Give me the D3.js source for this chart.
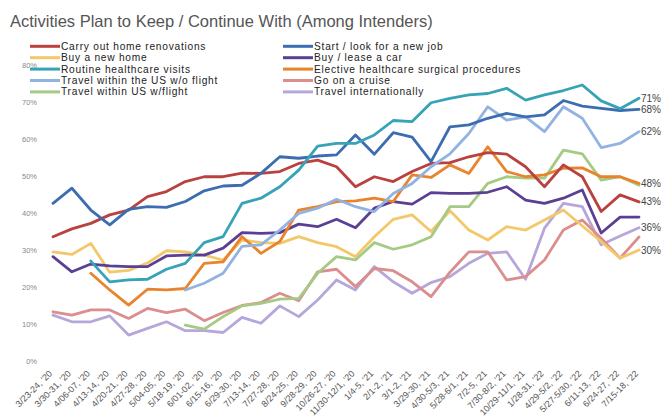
<!DOCTYPE html>
<html>
<head>
<meta charset="utf-8">
<script src="https://cdn.jsdelivr.net/npm/d3@7"></script>
<style>
  body { margin: 0; background: #fff; }
  svg { display: block; font-family: "Liberation Sans", Arial, sans-serif; }
</style>
</head>
<body>
<svg id="chart" width="665" height="419"></svg>
<script>
// Survey waves (x categories)
const waves = [
  "3/23-24, '20", "3/30-31, '20", "4/06-07, '20", "4/13-14, '20", "4/20-21, '20",
  "4/27-28, '20", "5/04-05, '20", "5/18-19, '20", "6/01-02, '20", "6/15-16, '20",
  "6/29-30, '20", "7/13-14, '20", "7/27-28, '20", "8/24-25, '20", "9/28-29, '20",
  "10/26-27, '20", "11/30-12/1, '20", "1/4-5, '21", "2/1-2, '21", "3/1-2, '21",
  "3/29-30, '21", "4/30-5/3, '21", "5/28-6/1, '21", "7/2-5, '21", "7/30-8/2, '21",
  "10/29-11/1, '21", "1/28-31, '22", "4/29-5/2, '22", "5/27-5/30, '22", "6/11-13, '22",
  "6/24-27, '22", "7/15-18, '22"
];

// Share of intenders (%) per wave; null = not asked in that wave
const homeRenovations = [33.6, 35.7, 37.2, 39.5, 40.8, 44.4, 45.8, 48.5, 49.8, 49.8,
  50.8, 50.7, 51.2, 53.4, 54.3, 52.5, 47.1, 49.8, 48.5, 51.2,
  53.4, 53.6, 55.2, 56.3, 55.9, 52.5, 47.1, 53.0, 49.8, 40.4, 44.9, 43];
const newHome = [29.5, 28.8, 31.8, 24.0, 24.5, 26.5, 29.8, 29.5, 28.6, 27.3,
  32.7, 32.0, 31.8, 33.6, 32.0, 30.9, 28.2, 33.6, 38.3, 39.5,
  35.0, 40.6, 35.4, 32.7, 36.3, 35.4, 38.1, 40.8, 36.5, 32.3, 27.8, 30];
const routineHealthcare = [null, null, 27.0, 21.4, 21.9, 22.1, 24.8, 26.4, 32.0, 33.6,
  42.6, 44.0, 47.1, 51.6, 58.1, 58.8, 58.8, 61.1, 65.0, 64.7,
  69.8, 71.0, 71.9, 72.3, 73.7, 70.5, 71.9, 73.1, 74.6, 70.3, 68.2, 71];
const usNoFlight = [null, null, null, null, null, null, null, 19.2, 21.0, 23.7,
  31.0, 31.4, 35.4, 39.9, 41.3, 43.7, 41.7, 40.4, 45.3, 48.0,
  52.5, 56.0, 61.5, 68.7, 65.1, 66.0, 62.0, 68.7, 65.6, 57.7, 58.8, 62];
const usWithFlight = [null, null, null, null, null, null, null, 9.7, 8.6, 12.0,
  14.9, 15.6, 16.7, 16.9, 23.7, 28.2, 27.3, 32.0, 30.2, 31.4,
  33.6, 41.7, 41.7, 48.0, 49.8, 49.4, 49.4, 57.0, 56.0, 48.9, 49.8, 47.5];
const newJob = [42.6, 46.7, 40.8, 36.8, 41.0, 41.7, 41.5, 43.1, 46.0, 47.3,
  47.5, 50.7, 55.2, 54.8, 55.4, 55.7, 61.1, 55.9, 61.7, 60.5,
  53.9, 63.3, 63.8, 65.6, 66.9, 66.0, 66.5, 70.4, 68.9, 68.3, 67.7, 68];
const leaseCar = [28.2, 24.1, 26.2, 25.7, 25.5, 25.5, 28.4, 28.6, 28.6, 30.5,
  34.7, 34.5, 34.7, 37.0, 36.3, 38.3, 36.0, 41.3, 43.1, 42.4,
  45.5, 45.3, 45.3, 45.6, 47.1, 43.5, 42.6, 44.0, 46.2, 34.6, 38.9, 38.9];
const electiveSurgery = [null, null, 23.7, 19.2, 15.1, 19.4, 19.2, 19.6, 26.4, 26.8,
  33.6, 29.1, 32.3, 40.8, 41.7, 43.1, 43.3, 44.0, 43.1, 50.3,
  49.6, 53.0, 50.7, 57.9, 51.2, 49.8, 50.3, 52.1, 52.2, 49.8, 49.8, 48];
const cruise = [13.3, 12.4, 13.8, 13.8, 11.5, 14.2, 13.1, 14.0, 10.9, 13.1,
  15.0, 15.8, 18.3, 16.3, 24.1, 24.8, 20.1, 25.0, 24.4, 21.4,
  17.4, 24.0, 29.5, 29.5, 21.9, 22.8, 27.3, 35.4, 38.1, 33.2, 27.8, 33.5];
const travelIntl = [12.4, 10.6, 10.6, 12.2, 7.0, 8.8, 10.6, 8.2, 8.2, 7.7,
  11.8, 10.2, 14.9, 12.0, 16.5, 21.9, 19.2, 25.5, 21.4, 18.3,
  21.2, 22.8, 26.4, 29.1, 29.5, 22.1, 35.9, 42.6, 41.7, 31.4, 33.8, 36];

const yTicks = [0, 10, 20, 30, 40, 50, 60, 70, 80];

// Legend columns: left five, right five
const series = [
  { name: "Carry out home renovations", color: "#b9413f", values: homeRenovations, col: 0, row: 0, endLabel: true },
  { name: "Buy a new home", color: "#f2c86a", values: newHome, col: 0, row: 1, endLabel: true },
  { name: "Routine healthcare visits", color: "#36a3b6", values: routineHealthcare, col: 0, row: 2, endLabel: true },
  { name: "Travel within the US w/o flight", color: "#92b3e2", values: usNoFlight, col: 0, row: 3, endLabel: true },
  { name: "Travel within US w/flight", color: "#a5ca84", values: usWithFlight, col: 0, row: 4, endLabel: false },
  { name: "Start / look for a new job", color: "#3c6db1", values: newJob, col: 1, row: 0, endLabel: true },
  { name: "Buy / lease a car", color: "#5b3f93", values: leaseCar, col: 1, row: 1, endLabel: false },
  { name: "Elective healthcare surgical procedures", color: "#e8842c", values: electiveSurgery, col: 1, row: 2, endLabel: true },
  { name: "Go on a cruise", color: "#dc8d8d", values: cruise, col: 1, row: 3, endLabel: false },
  { name: "Travel internationally", color: "#b6a7da", values: travelIntl, col: 1, row: 4, endLabel: true }
];

const svg = d3.select("#chart");

const x = d3.scalePoint().domain(waves).range([53, 639]);
const y = d3.scaleLinear().domain([0, 80]).range([361, 65]);

// Title
svg.append("text")
  .attr("x", 10).attr("y", 27)
  .attr("font-size", 16.5)
  .attr("fill", "#555")
  .text("Activities Plan to Keep / Continue With (Among Intenders)");

// Y axis (labels only)
const yAxis = svg.append("g")
  .attr("transform", "translate(40,0)")
  .call(d3.axisLeft(y).tickValues(yTicks).tickSize(0).tickPadding(3)
    .tickFormat(d => d + "%"));
yAxis.select(".domain").remove();
yAxis.selectAll("text").attr("font-size", 7.5).attr("fill", "#888")
  .attr("font-family", "'Liberation Sans', Arial, sans-serif");

// X axis (rotated labels only)
const xAxis = svg.append("g")
  .attr("transform", "translate(0,372)")
  .call(d3.axisBottom(x).tickSize(0).tickPadding(0));
xAxis.select(".domain").remove();
xAxis.selectAll("text")
  .attr("font-size", 9)
  .attr("fill", "#555")
  .attr("font-family", "'Liberation Sans', Arial, sans-serif")
  .attr("text-anchor", "end")
  .attr("dy", "0.35em")
  .attr("transform", "translate(-3,0) rotate(-45)");

// Lines
const line = d3.line()
  .defined(d => d != null)
  .x((d, i) => x(waves[i]))
  .y(d => y(d));

const drawOrder = [travelIntl, cruise, newHome, usWithFlight, leaseCar,
  electiveSurgery, homeRenovations, usNoFlight, newJob, routineHealthcare];
drawOrder.forEach(vals => {
  const s = series.find(t => t.values === vals);
  svg.append("path")
    .datum(s.values)
    .attr("fill", "none")
    .attr("stroke", s.color)
    .attr("stroke-width", 2.8)
    .attr("stroke-linejoin", "round")
    .attr("stroke-linecap", "round")
    .attr("d", line);
});

// End-of-line value labels
const lastIdx = waves.length - 1;
series.filter(s => s.endLabel).forEach(s => {
  const v = s.values[lastIdx];
  svg.append("text")
    .attr("x", x(waves[lastIdx]) + 2)
    .attr("y", y(v))
    .attr("dy", "0.35em")
    .attr("font-size", 10)
    .attr("fill", "#444")
    .text(d3.format(".0f")(v) + "%");
});

// Legend
const legendX = [30, 283];
const legendY0 = 46.3, legendStep = 11.4;
series.forEach(s => {
  const gx = legendX[s.col], gy = legendY0 + s.row * legendStep;
  const g = svg.append("g").attr("transform", `translate(${gx},${gy})`);
  g.append("line")
    .attr("x1", 0).attr("x2", 30)
    .attr("y1", 0).attr("y2", 0)
    .attr("stroke", s.color).attr("stroke-width", 3);
  g.append("text")
    .attr("x", 31).attr("y", 0).attr("dy", "0.35em")
    .attr("font-size", 10.2).attr("letter-spacing", 0.75).attr("fill", "#222")
    .text(s.name);
});
</script>
</body>
</html>
